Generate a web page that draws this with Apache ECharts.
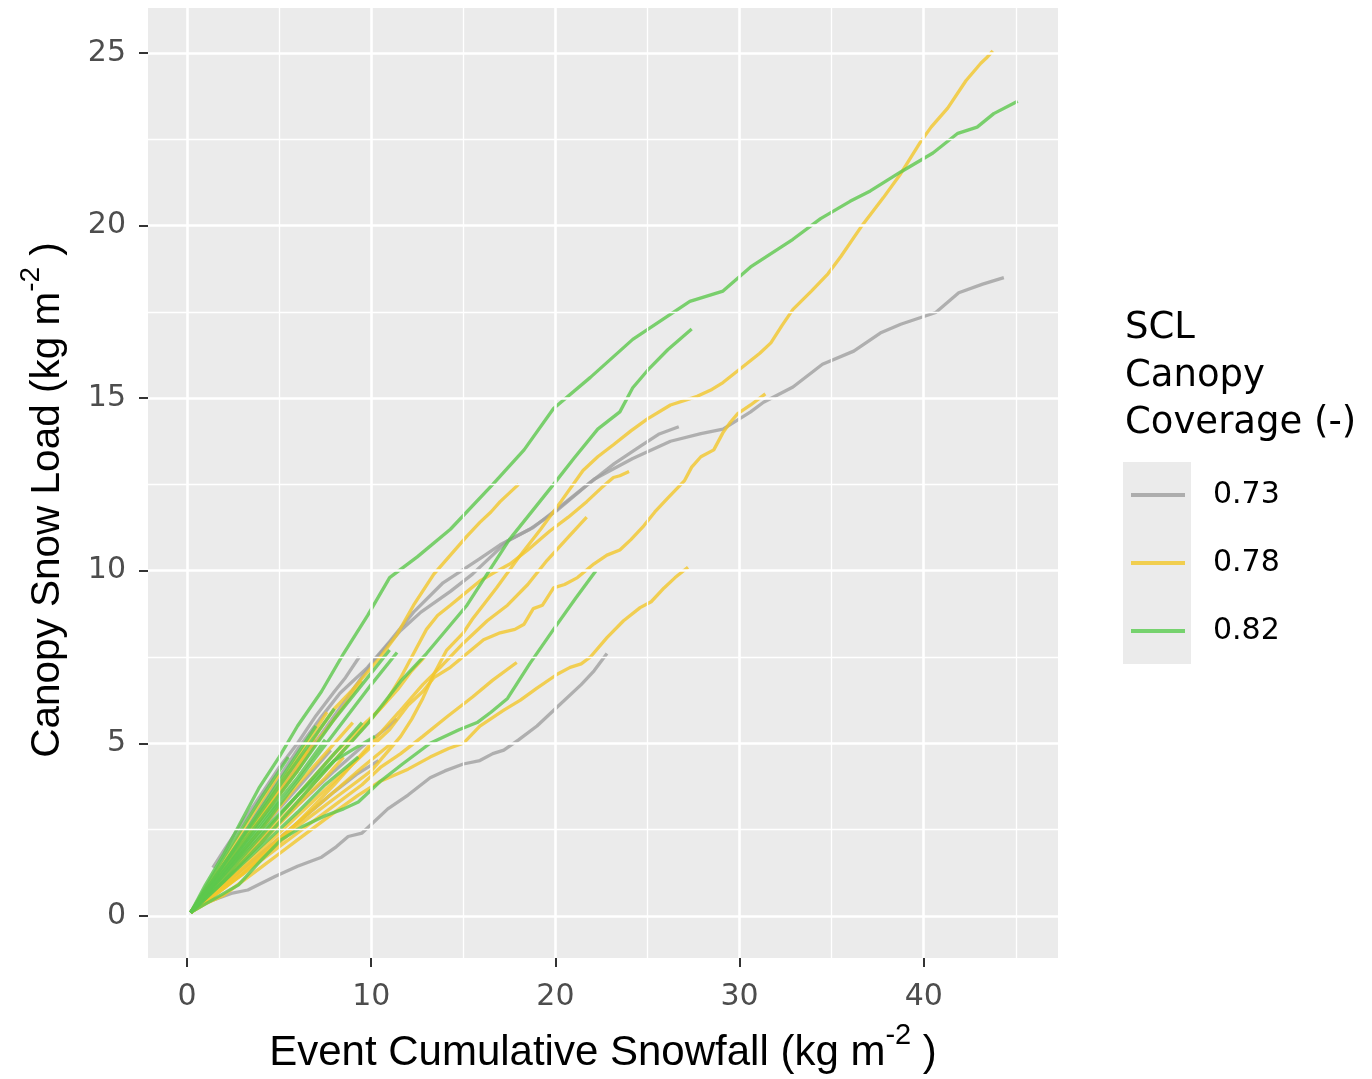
<!DOCTYPE html>
<html>
<head>
<meta charset="utf-8">
<script src="https://cdn.jsdelivr.net/npm/echarts@6/dist/echarts.min.js"></script>
<style>html,body{margin:0;padding:0;background:#fff;}#chart{width:1372px;height:1079px;}</style>
</head>
<body>
<div id="chart"></div>
<script>
// ---- tick values ----
const xTicks = [0, 10, 20, 30, 40];
const xMinor = [5, 15, 25, 35, 45];
const yTicks = [0, 5, 10, 15, 20, 25];
const yMinor = [2.5, 7.5, 12.5, 17.5, 22.5];

// ---- legend categories ----
const coverClasses = ['0.73', '0.78', '0.82'];

// ---- events, coverage 0.73 (each: [cumulative snowfall, canopy snow load]) ----
const cover073 = [
  [[0.2,0.1],[1,0.7],[2,1.5],[3,2.3],[4.5,3.6],[6.1,4.9],[7.2,5.7],[8.3,6.45],[9.8,7.2],[11,7.95],[12.3,8.8],[13.9,9.65],[15.9,10.35],[17,10.75],[18.8,11.25],[20.6,12.0],[22.1,12.65],[24.2,13.25],[26.25,13.75],[27.9,13.97],[29.1,14.1],[30.6,14.6],[31.3,14.88],[32.9,15.32],[34.5,15.98],[36.2,16.36],[37.7,16.9],[38.75,17.14],[40.65,17.48],[41.9,18.05],[43.2,18.3],[44.35,18.49]],
  [[0.2,0.1],[2,1.3],[4,2.8],[6,4.3],[8,5.8],[10,7.3],[11.6,8.27],[12.7,8.8],[14.3,9.4],[15.5,9.9],[17.4,10.86],[18.6,11.2],[20.1,11.75],[21.7,12.47],[23.2,13.1],[24.6,13.6],[25.6,13.95],[26.7,14.17]],
  [[0.2,0.1],[1.1,0.4],[2.4,0.65],[3.3,0.75],[4.8,1.15],[6,1.44],[7.3,1.7],[8.1,2.0],[8.75,2.3],[9.5,2.4],[10.2,2.75],[10.9,3.1],[12,3.5],[13.2,4.0],[14,4.2],[15,4.4],[15.9,4.5],[16.6,4.7],[17.2,4.8],[18,5.1],[19,5.5],[20.1,6.05],[21.4,6.7],[22.1,7.1],[22.8,7.6]],
  [[1.4,1.4],[2,1.9],[3,2.7],[4,3.5],[5,4.3],[6,5.0],[7,5.8],[8,6.5],[8.6,6.9],[9.35,7.5]],
  [[0.2,0.1],[2,1.1],[4,2.2],[6,3.2],[8,4.2],[9.5,4.9],[10.5,5.3],[11.4,5.7]],
  [[0.2,0.1],[2,0.9],[4,1.8],[6,2.7],[8,3.6],[9.2,4.1],[10.4,4.5]],
  [[0.2,0.1],[2,1.4],[4,2.9],[5.5,4.0],[7,5.1]],
  [[0.2,0.1],[2,1.2],[4,2.5],[6,3.7],[7.8,4.8]]
];

// ---- events, coverage 0.78 ----
const cover078 = [
  [[0.2,0.1],[1,0.4],[2,0.8],[3,1.2],[4,1.7],[5,2.1],[6,2.6],[7,3.0],[8,3.4],[9,3.8],[10,4.2],[10.8,4.7],[11.6,5.2],[12.2,5.7],[12.8,6.3],[13.4,7.0],[14.1,7.7],[15,8.2],[15.5,8.6],[16.8,9.5],[18.1,10.45],[19.2,11.2],[20.3,12.0],[21.5,12.9],[22.3,13.3],[23.15,13.65],[24.1,14.05],[25,14.4],[26.25,14.8],[27.7,15.05],[28.5,15.25],[29.1,15.45],[30.4,16.0],[31.1,16.3],[31.7,16.6],[32.3,17.1],[32.9,17.57],[33.9,18.1],[34.8,18.6],[35.5,19.1],[36.6,19.96],[37.8,20.8],[38.75,21.5],[39.8,22.4],[40.4,22.85],[41.3,23.4],[42.3,24.2],[43.1,24.7],[43.4,24.85],[43.75,25.06]],
  [[0.2,0.1],[1,0.5],[2,0.9],[4,1.9],[6,2.9],[8,3.9],[10,4.9],[11,5.4],[12,6.1],[12.8,6.5],[13.4,6.9],[14.3,7.2],[15.2,7.6],[16.1,8.0],[17,8.2],[17.8,8.3],[18.3,8.45],[18.8,8.9],[19.3,9.0],[19.9,9.5],[20.5,9.6],[21.2,9.8],[22.1,10.2],[22.8,10.45],[23.5,10.6],[24.1,10.9],[24.8,11.3],[25.4,11.7],[26.1,12.1],[27,12.6],[27.4,13.0],[27.9,13.3],[28.6,13.5],[29.1,14.0],[29.5,14.3],[29.9,14.55],[30.6,14.8],[31.4,15.12]],
  [[0.2,0.1],[1,0.35],[2,0.6],[3,1.0],[4,1.4],[5,1.8],[6,2.2],[7,2.6],[8,3.0],[9.3,3.5],[10.5,3.9],[12,4.25],[13.2,4.6],[14.2,4.85],[15,5.0],[15.9,5.5],[17.2,5.96],[18.1,6.25],[19,6.6],[20.1,7.0],[20.8,7.2],[21.4,7.3],[21.9,7.5],[22.8,8.06],[23.7,8.55],[24.6,8.93],[25.2,9.1],[25.9,9.5],[26.5,9.8],[27.2,10.1]],
  [[0.2,0.1],[2,1.0],[4,2.2],[6,3.3],[8,4.5],[9,5.1],[10,5.7],[10.8,6.2],[11.6,6.9],[12.3,7.6],[13,8.3],[13.6,8.7],[14.3,9.0],[15.1,9.35],[15.9,9.7],[16.7,9.95],[17.55,10.2],[18.5,10.6],[19.7,11.15],[20.7,11.55],[21.7,12.0],[22.5,12.4],[23.15,12.7],[23.5,12.75],[24,12.87]],
  [[0.2,0.1],[1,0.7],[2,1.4],[3,2.1],[4.5,3.2],[6,4.3],[7.2,5.4],[8,6.0],[8.9,6.5],[9.7,7.0],[10.5,7.5],[11.4,8.15],[12.3,9.0],[13.4,9.9],[14.3,10.45],[15.2,11.0],[15.9,11.4],[16.5,11.7],[17,12.0],[18,12.5]],
  [[0.2,0.1],[2,0.8],[4,1.7],[6,2.7],[8,3.8],[9,4.4],[10,5.0],[11.5,5.9],[12.8,6.7],[13.75,7.2],[15,7.9],[16.3,8.55],[17.4,9.0],[18.5,9.6],[19.55,10.3],[20.65,10.94],[21.7,11.55]],
  [[0.2,0.1],[2,0.8],[4,1.6],[6,2.4],[8,3.2],[9.5,3.8],[10.5,4.3],[11.6,4.7],[12.8,5.2],[14.1,5.76],[15.5,6.34],[16.6,6.83],[17.9,7.34]],
  [[0.2,0.1],[2,1.1],[4,2.3],[6,3.5],[8,4.7],[9.5,5.5],[10.5,6.0],[11.5,6.6],[12.2,7.1],[12.9,7.5]],
  [[0.2,0.1],[2,1.3],[4,2.8],[6,4.2],[7,5.0],[8,5.7],[9.5,6.8]],
  [[0.2,0.1],[2,1.5],[4,3.0],[6,4.6],[7.6,5.9]],
  [[0.2,0.1],[2,1.2],[4,2.5],[6,3.8],[8,5.0],[9,5.6]],
  [[0.2,0.1],[2,0.9],[4,1.8],[6,2.7],[8,3.6],[9.5,4.3],[11.1,5.0]],
  [[0.2,0.1],[2,1.4],[4,2.9],[5.5,4.1],[6.5,4.8]],
  [[0.2,0.1],[2,1.0],[4,2.1],[6,3.2],[7.5,4.0],[8.5,4.6]],
  [[0.2,0.1],[2,1.6],[3.5,2.9],[5,4.1]]
];

// ---- events, coverage 0.82 ----
const cover082 = [
  [[0.2,0.1],[1,0.9],[2,1.8],[3,2.8],[3.9,3.7],[5,4.6],[6,5.5],[7.3,6.5],[8.5,7.6],[9.8,8.7],[11,9.8],[12.5,10.4],[14.3,11.2],[16.6,12.5],[18.3,13.5],[19.9,14.7],[21.9,15.6],[24.2,16.7],[27.3,17.8],[29.1,18.1],[30.6,18.8],[32.9,19.6],[34.4,20.2],[36,20.7],[37.1,21.0],[38.75,21.55],[40.5,22.1],[41.85,22.67],[42.9,22.85],[43.8,23.24],[45.1,23.6]],
  [[0.2,0.1],[2,1.0],[4,2.1],[6,3.3],[8,4.5],[9.8,5.56],[11.6,6.8],[13,7.6],[15.2,9.0],[17.5,10.9],[19.9,12.5],[21,13.25],[22.3,14.1],[23.5,14.6],[24.2,15.3],[25,15.8],[26.1,16.4],[27.4,17.0]],
  [[0.2,0.1],[1.5,0.5],[2.8,0.9],[4,1.6],[5.1,2.2],[6.3,2.6],[7.5,2.9],[8.5,3.1],[9.3,3.3],[10.5,3.9],[11.7,4.4],[13.2,5.0],[14.8,5.4],[15.75,5.6],[16.5,5.9],[17.4,6.3],[18.6,7.3],[19.9,8.3],[21.1,9.2],[22.2,10.0]],
  [[0.2,0.1],[2,1.2],[4,2.5],[6,3.9],[8,5.3],[10,6.7],[11.4,7.63]],
  [[0.2,0.1],[2,1.4],[4,2.8],[6,4.2],[8,5.7],[9.5,6.7],[11.0,7.7]],
  [[0.2,0.1],[2,1.5],[4,3.0],[6,4.5],[8,6.0]],
  [[0.2,0.1],[2,1.3],[4,2.7],[6,4.0],[7.5,5.1]],
  [[0.2,0.1],[2,1.1],[4,2.3],[6,3.5],[8,4.7],[9.5,5.6]],
  [[0.2,0.1],[2,1.7],[4,3.4],[5.5,4.6]],
  [[0.2,0.1],[2,1.0],[4,2.0],[6,3.0],[7.5,3.8],[9.3,4.6]],
  [[0.2,0.1],[2,1.2],[4,2.4],[6,3.5],[8,4.5],[10.2,5.2]],
  [[0.2,0.1],[1.5,1.1],[3,2.3],[4.5,3.5],[6,4.7],[7,5.5]],
  [[0.2,0.1],[2,1.3],[4,2.6],[5,3.3]]
];

const FONT = '"Liberation Sans", Arial, Helvetica, sans-serif';
const FONT_W = '"DejaVu Sans", "Liberation Sans", sans-serif';
const lineColors = { '0.73': '#A0A0A0', '0.78': '#F2C72A', '0.82': '#5DC84C' };
const legendColors = { '0.73': '#ADADAD', '0.78': '#F1CE4F', '0.82': '#76D26E' };

function makeSeries(name, lines) {
  return lines.map(function (pts) {
    return {
      type: 'line', name: name, data: pts, showSymbol: false, symbol: 'none',
      silent: true, z: 3, animation: false,
      lineStyle: { color: lineColors[name], width: 3.3, opacity: 0.8 },
      itemStyle: { color: legendColors[name] }
    };
  });
}

const gridMarks = [];
xTicks.forEach(v => gridMarks.push({ xAxis: v, lineStyle: { color: '#FFFFFF', width: 2.6, type: 'solid' } }));
xMinor.forEach(v => gridMarks.push({ xAxis: v, lineStyle: { color: '#FFFFFF', width: 1.3, type: 'solid' } }));
yTicks.forEach(v => gridMarks.push({ yAxis: v, lineStyle: { color: '#FFFFFF', width: 2.6, type: 'solid' } }));
yMinor.forEach(v => gridMarks.push({ yAxis: v, lineStyle: { color: '#FFFFFF', width: 1.3, type: 'solid' } }));

const gridSeries = {
  type: 'line', data: [], silent: true, z: 1, animation: false,
  markLine: { silent: true, symbol: ['none', 'none'], label: { show: false }, animation: false, data: gridMarks }
};

const chart = echarts.init(document.getElementById('chart'), null, { renderer: 'canvas' });

function nameRich(size, family) {
  return {
    t: { fontSize: size, lineHeight: Math.round(size * 1.25), verticalAlign: 'bottom', color: '#000000', fontFamily: family },
    s: { fontSize: Math.round(size * 0.7), lineHeight: Math.round(size * 0.5), verticalAlign: 'top', color: '#000000', fontFamily: family }
  };
}

chart.setOption({
  animation: false,
  backgroundColor: '#FFFFFF',
  grid: { left: 148, top: 8, width: 910, height: 955, show: true, backgroundColor: '#EBEBEB', borderWidth: 0, containLabel: false },
  xAxis: {
    type: 'value', min: -2.12, max: 47.29,
    axisLine: { show: false, onZero: false }, splitLine: { show: false },
    axisTick: { show: true, length: 9, customValues: xTicks, lineStyle: { color: '#333333', width: 2 } },
    axisLabel: { customValues: xTicks, color: '#4D4D4D', fontSize: 30, margin: 24, fontFamily: FONT_W },
    name: '{t|Event Cumulative Snowfall (kg m}{s|-2}{t| )}',
    nameLocation: 'middle', nameGap: 63,
    nameTextStyle: { rich: nameRich(42, FONT) }
  },
  yAxis: {
    type: 'value', min: -1.22, max: 26.3,
    axisLine: { show: false, onZero: false }, splitLine: { show: false },
    axisTick: { show: true, length: 9, customValues: yTicks, lineStyle: { color: '#333333', width: 2 } },
    axisLabel: { customValues: yTicks, color: '#4D4D4D', fontSize: 30, margin: 22, fontFamily: FONT_W },
    name: '{t|Canopy Snow Load (kg m}{s|-2}{t| )}',
    nameLocation: 'middle', nameGap: 80,
    nameTextStyle: { rich: nameRich(40.5, FONT), padding: [0, 34, 0, 0] }
  },
  legend: {
    orient: 'vertical', left: 1131, top: 480, padding: 0,
    itemWidth: 54, itemHeight: 4, icon: 'rect', itemGap: 38,
    selectedMode: false,
    textStyle: { fontSize: 30, color: '#000000', lineHeight: 30, padding: [0, 0, 0, 23], fontFamily: FONT_W },
    data: coverClasses.map(c => ({ name: c, itemStyle: { color: legendColors[c] } }))
  },
  graphic: [
    { type: 'rect', left: 1123, top: 462, z: 0, shape: { width: 68, height: 202 }, style: { fill: '#EBEBEB' } },
    { type: 'text', left: 1125, top: 305, z: 1, style: { text: 'SCL\nCanopy\nCoverage (-)', fontSize: 37, lineHeight: 47.5, fill: '#000000', fontFamily: FONT_W } }
  ],
  series: [gridSeries]
    .concat(makeSeries('0.73', cover073))
    .concat(makeSeries('0.78', cover078))
    .concat(makeSeries('0.82', cover082))
});
</script>
</body>
</html>
